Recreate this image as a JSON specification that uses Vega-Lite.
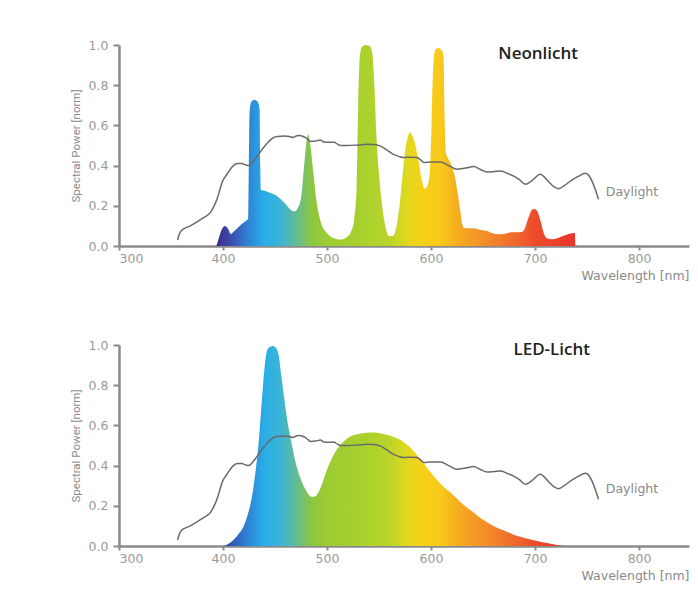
{
  "$schema": "https://vega.github.io/schema/vega-lite/v6.json",
  "background": "white",
  "padding": {"top": 39, "left": 70, "right": 2, "bottom": 4},
  "spacing": 57,
  "config": {
    "view": {"stroke": null},
    "axis": {
      "grid": false,
      "domainColor": "#8a8a8a",
      "domainWidth": 2.5,
      "tickColor": "#8a8a8a",
      "tickWidth": 2,
      "labelColor": "#9a9a9a",
      "labelFont": "DejaVu Sans",
      "labelFontSize": 12.5,
      "titleColor": "#8a8a8a",
      "titleFontWeight": "normal"
    }
  },
  "datasets": {
    "neon": [
      {"wl": 393.6, "p": 0}, {"wl": 396, "p": 0.04}, {"wl": 399, "p": 0.085}, {"wl": 402, "p": 0.1},
      {"wl": 405, "p": 0.085}, {"wl": 407.5, "p": 0.06}, {"wl": 410, "p": 0.07}, {"wl": 414, "p": 0.09},
      {"wl": 418, "p": 0.11}, {"wl": 422, "p": 0.125}, {"wl": 424.3, "p": 0.135}, {"wl": 424.8, "p": 0.4},
      {"wl": 425.5, "p": 0.66}, {"wl": 427, "p": 0.715}, {"wl": 430, "p": 0.728}, {"wl": 433, "p": 0.72},
      {"wl": 435.2, "p": 0.68}, {"wl": 435.8, "p": 0.4}, {"wl": 436.3, "p": 0.28}, {"wl": 440, "p": 0.275},
      {"wl": 445, "p": 0.265}, {"wl": 450, "p": 0.255}, {"wl": 455, "p": 0.235}, {"wl": 460, "p": 0.21},
      {"wl": 465, "p": 0.18}, {"wl": 469, "p": 0.172}, {"wl": 472, "p": 0.19}, {"wl": 475, "p": 0.24},
      {"wl": 478, "p": 0.4}, {"wl": 480.5, "p": 0.53}, {"wl": 482, "p": 0.556}, {"wl": 484, "p": 0.5},
      {"wl": 487, "p": 0.36}, {"wl": 490, "p": 0.22}, {"wl": 494, "p": 0.12}, {"wl": 500, "p": 0.065},
      {"wl": 506, "p": 0.04}, {"wl": 513, "p": 0.032}, {"wl": 519, "p": 0.045}, {"wl": 523, "p": 0.07},
      {"wl": 526, "p": 0.13}, {"wl": 528.5, "p": 0.3}, {"wl": 530, "p": 0.7}, {"wl": 531.5, "p": 0.94},
      {"wl": 533.5, "p": 0.99}, {"wl": 537, "p": 1.0}, {"wl": 541, "p": 0.995}, {"wl": 543.5, "p": 0.96},
      {"wl": 545.5, "p": 0.8}, {"wl": 547.5, "p": 0.55}, {"wl": 550, "p": 0.36}, {"wl": 553, "p": 0.2},
      {"wl": 556, "p": 0.1}, {"wl": 560, "p": 0.05}, {"wl": 563, "p": 0.05}, {"wl": 566, "p": 0.08},
      {"wl": 569, "p": 0.17}, {"wl": 572, "p": 0.32}, {"wl": 575, "p": 0.47}, {"wl": 578, "p": 0.55},
      {"wl": 580, "p": 0.565}, {"wl": 582, "p": 0.55}, {"wl": 585, "p": 0.5}, {"wl": 588, "p": 0.42},
      {"wl": 591, "p": 0.33}, {"wl": 594, "p": 0.285}, {"wl": 596.5, "p": 0.3}, {"wl": 599, "p": 0.38},
      {"wl": 600.5, "p": 0.6}, {"wl": 602, "p": 0.88}, {"wl": 604, "p": 0.975}, {"wl": 607, "p": 0.985},
      {"wl": 610, "p": 0.975}, {"wl": 612, "p": 0.94}, {"wl": 613, "p": 0.65}, {"wl": 614, "p": 0.47},
      {"wl": 616, "p": 0.44}, {"wl": 619, "p": 0.41}, {"wl": 621, "p": 0.38}, {"wl": 623.5, "p": 0.33},
      {"wl": 626, "p": 0.25}, {"wl": 628, "p": 0.18}, {"wl": 630, "p": 0.11}, {"wl": 632, "p": 0.09},
      {"wl": 636, "p": 0.088}, {"wl": 641, "p": 0.088}, {"wl": 646, "p": 0.082}, {"wl": 650, "p": 0.078},
      {"wl": 654, "p": 0.075}, {"wl": 658, "p": 0.065}, {"wl": 662, "p": 0.06}, {"wl": 667, "p": 0.058},
      {"wl": 672, "p": 0.062}, {"wl": 677, "p": 0.068}, {"wl": 682, "p": 0.068}, {"wl": 687, "p": 0.07},
      {"wl": 690, "p": 0.085}, {"wl": 693, "p": 0.13}, {"wl": 696, "p": 0.172}, {"wl": 699, "p": 0.184},
      {"wl": 702, "p": 0.175}, {"wl": 705, "p": 0.13}, {"wl": 708, "p": 0.07}, {"wl": 711, "p": 0.04},
      {"wl": 716, "p": 0.033}, {"wl": 722, "p": 0.04}, {"wl": 728, "p": 0.052}, {"wl": 734, "p": 0.062},
      {"wl": 738.3, "p": 0.065}, {"wl": 738.7, "p": 0}
    ],
    "led": [
      {"wl": 400.7, "p": 0}, {"wl": 405, "p": 0.01}, {"wl": 410, "p": 0.03}, {"wl": 415, "p": 0.06},
      {"wl": 420, "p": 0.1}, {"wl": 424, "p": 0.16}, {"wl": 428, "p": 0.25}, {"wl": 431, "p": 0.36},
      {"wl": 434, "p": 0.5}, {"wl": 437, "p": 0.7}, {"wl": 440, "p": 0.89}, {"wl": 442.5, "p": 0.975},
      {"wl": 445, "p": 0.99}, {"wl": 448, "p": 0.995}, {"wl": 451, "p": 0.985}, {"wl": 453.5, "p": 0.95},
      {"wl": 456, "p": 0.85}, {"wl": 459, "p": 0.73}, {"wl": 462, "p": 0.62}, {"wl": 466, "p": 0.51},
      {"wl": 470, "p": 0.41}, {"wl": 475, "p": 0.33}, {"wl": 480, "p": 0.275}, {"wl": 485, "p": 0.245},
      {"wl": 488, "p": 0.245}, {"wl": 492, "p": 0.27}, {"wl": 496, "p": 0.32}, {"wl": 500, "p": 0.38},
      {"wl": 505, "p": 0.44}, {"wl": 510, "p": 0.485}, {"wl": 516, "p": 0.52}, {"wl": 522, "p": 0.543},
      {"wl": 530, "p": 0.557}, {"wl": 538, "p": 0.563}, {"wl": 545, "p": 0.565}, {"wl": 552, "p": 0.56},
      {"wl": 560, "p": 0.55}, {"wl": 570, "p": 0.53}, {"wl": 580, "p": 0.49}, {"wl": 590, "p": 0.43},
      {"wl": 600, "p": 0.365}, {"wl": 610, "p": 0.305}, {"wl": 620, "p": 0.26}, {"wl": 630, "p": 0.21},
      {"wl": 640, "p": 0.17}, {"wl": 650, "p": 0.13}, {"wl": 660, "p": 0.1}, {"wl": 670, "p": 0.077},
      {"wl": 680, "p": 0.055}, {"wl": 690, "p": 0.04}, {"wl": 700, "p": 0.027}, {"wl": 710, "p": 0.016},
      {"wl": 720, "p": 0.006}, {"wl": 727.6, "p": 0}
    ],
    "day": [
      {"wl": 356.4, "p": 0.03}, {"wl": 358, "p": 0.06}, {"wl": 360.6, "p": 0.08}, {"wl": 364, "p": 0.09},
      {"wl": 368.6, "p": 0.1}, {"wl": 375, "p": 0.12}, {"wl": 381, "p": 0.14}, {"wl": 387.8, "p": 0.166},
      {"wl": 391, "p": 0.195}, {"wl": 394, "p": 0.23}, {"wl": 397, "p": 0.28}, {"wl": 399, "p": 0.315},
      {"wl": 403.8, "p": 0.357}, {"wl": 410, "p": 0.4}, {"wl": 414, "p": 0.41}, {"wl": 418, "p": 0.41},
      {"wl": 421, "p": 0.405}, {"wl": 424.7, "p": 0.4}, {"wl": 429.5, "p": 0.423}, {"wl": 434, "p": 0.455},
      {"wl": 439, "p": 0.49}, {"wl": 444, "p": 0.52}, {"wl": 448.7, "p": 0.54}, {"wl": 453, "p": 0.545},
      {"wl": 458, "p": 0.547}, {"wl": 464, "p": 0.545}, {"wl": 467, "p": 0.54}, {"wl": 471, "p": 0.548},
      {"wl": 474, "p": 0.55}, {"wl": 477, "p": 0.545}, {"wl": 479, "p": 0.54}, {"wl": 482, "p": 0.528},
      {"wl": 484, "p": 0.52}, {"wl": 489, "p": 0.522}, {"wl": 493.6, "p": 0.527}, {"wl": 497, "p": 0.517},
      {"wl": 502, "p": 0.516}, {"wl": 506.4, "p": 0.517}, {"wl": 510, "p": 0.507}, {"wl": 512.8, "p": 0.5},
      {"wl": 520, "p": 0.5}, {"wl": 530, "p": 0.503}, {"wl": 538.5, "p": 0.506}, {"wl": 545, "p": 0.505},
      {"wl": 551, "p": 0.498}, {"wl": 557, "p": 0.48}, {"wl": 564, "p": 0.456}, {"wl": 569, "p": 0.446},
      {"wl": 573.7, "p": 0.44}, {"wl": 580, "p": 0.442}, {"wl": 586.5, "p": 0.44}, {"wl": 590, "p": 0.428},
      {"wl": 593, "p": 0.415}, {"wl": 600, "p": 0.418}, {"wl": 609, "p": 0.418}, {"wl": 617, "p": 0.4},
      {"wl": 625, "p": 0.382}, {"wl": 633, "p": 0.388}, {"wl": 641, "p": 0.395}, {"wl": 647, "p": 0.382},
      {"wl": 654, "p": 0.368}, {"wl": 660, "p": 0.37}, {"wl": 666.6, "p": 0.373}, {"wl": 673, "p": 0.362},
      {"wl": 679.5, "p": 0.348}, {"wl": 685, "p": 0.33}, {"wl": 690.7, "p": 0.307}, {"wl": 697, "p": 0.325},
      {"wl": 705, "p": 0.357}, {"wl": 713, "p": 0.32}, {"wl": 718, "p": 0.295}, {"wl": 722.8, "p": 0.285},
      {"wl": 728, "p": 0.3}, {"wl": 734, "p": 0.323}, {"wl": 741, "p": 0.345}, {"wl": 748.4, "p": 0.362},
      {"wl": 751, "p": 0.355}, {"wl": 755, "p": 0.32}, {"wl": 758, "p": 0.28}, {"wl": 761, "p": 0.232}
    ],
    "labels": [
      {"chart": "neon", "kind": "title", "wl": 703, "p": 0.955, "text": "Neonlicht"},
      {"chart": "neon", "kind": "series", "wl": 768, "p": 0.27, "text": "Daylight"},
      {"chart": "led", "kind": "title", "wl": 716, "p": 0.975, "text": "LED-Licht"},
      {"chart": "led", "kind": "series", "wl": 768, "p": 0.284, "text": "Daylight"}
    ]
  },
  "vconcat": [
    {
      "width": 570,
      "height": 201,
      "layer": [
        {
          "data": {"name": "neon"},
          "mark": {
            "type": "area",
            "interpolate": "monotone",
            "color": {
              "gradient": "linear", "x1": 0, "y1": 0, "x2": 1, "y2": 0,
              "stops": [
                {"offset": 0, "color": "#3d2a88"},
                {"offset": 0.048, "color": "#3a55b5"},
                {"offset": 0.091, "color": "#2e86d6"},
                {"offset": 0.134, "color": "#29aee8"},
                {"offset": 0.178, "color": "#3cb4d6"},
                {"offset": 0.221, "color": "#62bb98"},
                {"offset": 0.265, "color": "#8cc63f"},
                {"offset": 0.308, "color": "#9ccc34"},
                {"offset": 0.395, "color": "#a6d02e"},
                {"offset": 0.482, "color": "#bad42a"},
                {"offset": 0.526, "color": "#dcd820"},
                {"offset": 0.569, "color": "#f5d218"},
                {"offset": 0.627, "color": "#f8c81a"},
                {"offset": 0.671, "color": "#f6ad1f"},
                {"offset": 0.743, "color": "#f39029"},
                {"offset": 0.83, "color": "#f06a2c"},
                {"offset": 0.888, "color": "#ee4b2b"},
                {"offset": 1, "color": "#e8352c"}
              ]
            }
          },
          "encoding": {
            "x": {
              "field": "wl", "type": "quantitative",
              "scale": {"domain": [300, 848], "nice": false, "zero": false},
              "axis": {
                "values": [300, 400, 500, 600, 700, 800], "format": "d",
                "tickSize": 4, "labelPadding": 2,
                "title": "Wavelength [nm]", "titleAnchor": "end", "titleAlign": "right",
                "titleFont": "DejaVu Sans", "titleFontSize": 12.5, "titlePadding": 5
              }
            },
            "y": {
              "field": "p", "type": "quantitative",
              "scale": {"domain": [0, 1], "nice": false},
              "axis": {
                "values": [0, 0.2, 0.4, 0.6, 0.8, 1.0], "format": ".1f",
                "tickSize": 6, "labelPadding": 5,
                "title": "Spectral Power [norm]",
                "titleFont": "Roboto", "titleFontSize": 11.5, "titlePadding": 7
              }
            }
          }
        },
        {
          "data": {"name": "day"},
          "mark": {"type": "line", "color": "#6a6a6a", "strokeWidth": 1.5, "interpolate": "monotone"},
          "encoding": {
            "x": {"field": "wl", "type": "quantitative"},
            "y": {"field": "p", "type": "quantitative"}
          }
        },
        {
          "data": {"name": "labels"},
          "transform": [{"filter": "datum.chart == 'neon' && datum.kind == 'title'"}],
          "mark": {"type": "text", "font": "Open Sans", "fontSize": 17, "fontWeight": 600, "color": "#222222", "align": "center", "baseline": "middle"},
          "encoding": {
            "x": {"field": "wl", "type": "quantitative"},
            "y": {"field": "p", "type": "quantitative"},
            "text": {"field": "text"}
          }
        },
        {
          "data": {"name": "labels"},
          "transform": [{"filter": "datum.chart == 'neon' && datum.kind == 'series'"}],
          "mark": {"type": "text", "font": "DejaVu Sans", "fontSize": 12.5, "color": "#8a8a8a", "align": "left", "baseline": "middle"},
          "encoding": {
            "x": {"field": "wl", "type": "quantitative"},
            "y": {"field": "p", "type": "quantitative"},
            "text": {"field": "text"}
          }
        }
      ]
    },
    {
      "width": 570,
      "height": 201,
      "layer": [
        {
          "data": {"name": "led"},
          "mark": {
            "type": "area",
            "interpolate": "monotone",
            "color": {
              "gradient": "linear", "x1": 0, "y1": 0, "x2": 1, "y2": 0,
              "stops": [
                {"offset": 0, "color": "#2f3f9e"},
                {"offset": 0.028, "color": "#2f5cba"},
                {"offset": 0.074, "color": "#2e86d6"},
                {"offset": 0.12, "color": "#29aee8"},
                {"offset": 0.166, "color": "#3cb4d6"},
                {"offset": 0.212, "color": "#62bb98"},
                {"offset": 0.258, "color": "#8cc63f"},
                {"offset": 0.304, "color": "#9ccc34"},
                {"offset": 0.396, "color": "#a6d02e"},
                {"offset": 0.487, "color": "#bad42a"},
                {"offset": 0.533, "color": "#dcd820"},
                {"offset": 0.579, "color": "#f5d218"},
                {"offset": 0.64, "color": "#f8c81a"},
                {"offset": 0.686, "color": "#f6ad1f"},
                {"offset": 0.763, "color": "#f39029"},
                {"offset": 0.854, "color": "#f06a2c"},
                {"offset": 0.916, "color": "#ee4b2b"},
                {"offset": 1, "color": "#e8352c"}
              ]
            }
          },
          "encoding": {
            "x": {
              "field": "wl", "type": "quantitative",
              "scale": {"domain": [300, 848], "nice": false, "zero": false},
              "axis": {
                "values": [300, 400, 500, 600, 700, 800], "format": "d",
                "tickSize": 4, "labelPadding": 2,
                "title": "Wavelength [nm]", "titleAnchor": "end", "titleAlign": "right",
                "titleFont": "DejaVu Sans", "titleFontSize": 12.5, "titlePadding": 5
              }
            },
            "y": {
              "field": "p", "type": "quantitative",
              "scale": {"domain": [0, 1], "nice": false},
              "axis": {
                "values": [0, 0.2, 0.4, 0.6, 0.8, 1.0], "format": ".1f",
                "tickSize": 6, "labelPadding": 5,
                "title": "Spectral Power [norm]",
                "titleFont": "Roboto", "titleFontSize": 11.5, "titlePadding": 7
              }
            }
          }
        },
        {
          "data": {"name": "day"},
          "mark": {"type": "line", "color": "#6a6a6a", "strokeWidth": 1.5, "interpolate": "monotone"},
          "encoding": {
            "x": {"field": "wl", "type": "quantitative"},
            "y": {"field": "p", "type": "quantitative"}
          }
        },
        {
          "data": {"name": "labels"},
          "transform": [{"filter": "datum.chart == 'led' && datum.kind == 'title'"}],
          "mark": {"type": "text", "font": "Open Sans", "fontSize": 17, "fontWeight": 600, "color": "#222222", "align": "center", "baseline": "middle"},
          "encoding": {
            "x": {"field": "wl", "type": "quantitative"},
            "y": {"field": "p", "type": "quantitative"},
            "text": {"field": "text"}
          }
        },
        {
          "data": {"name": "labels"},
          "transform": [{"filter": "datum.chart == 'led' && datum.kind == 'series'"}],
          "mark": {"type": "text", "font": "DejaVu Sans", "fontSize": 12.5, "color": "#8a8a8a", "align": "left", "baseline": "middle"},
          "encoding": {
            "x": {"field": "wl", "type": "quantitative"},
            "y": {"field": "p", "type": "quantitative"},
            "text": {"field": "text"}
          }
        }
      ]
    }
  ]
}
